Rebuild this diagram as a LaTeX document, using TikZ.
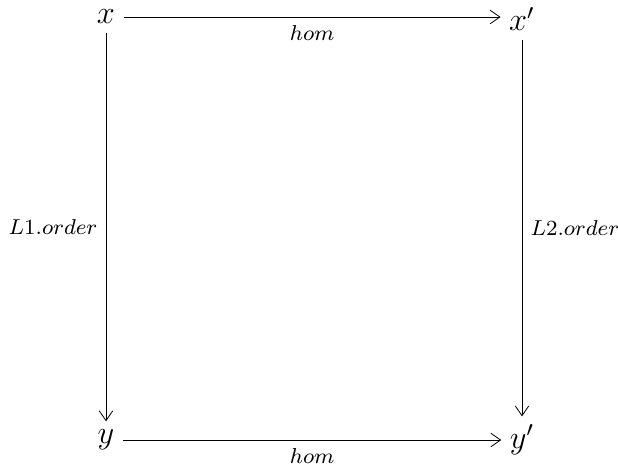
\documentclass[tikz,border=0pt]{standalone}
\usetikzlibrary{arrows.meta}
\begin{document}
\begin{tikzpicture}[x=0.01303cm,y=-0.01303cm,
  obj/.style={inner sep=3pt,font=\large},
  lbl/.style={font=\footnotesize,inner sep=3pt},
  arr/.style={-{Straight Barb[length=3.6pt,width=5pt]},line width=0.3pt}]
\useasboundingbox (0,0) rectangle (618,466);
\node[obj] (x) at (106,17) {$x$};
\node[obj] (xp) at (522,19) {$x'$};
\node[obj] (y) at (106,440) {$y$};
\node[obj] (yp) at (522,440) {$y'$};
\draw[arr] (x) -- node[lbl,below] {$hom$} (xp.west |- x);
\draw[arr] (y) -- node[lbl,below] {$hom$} (yp.west |- y);
\draw[arr] (x) -- node[lbl,left] {$L1.order$} (y);
\draw[arr] (xp) -- node[lbl,right] {$L2.order$} (yp);
\end{tikzpicture}
\end{document}
